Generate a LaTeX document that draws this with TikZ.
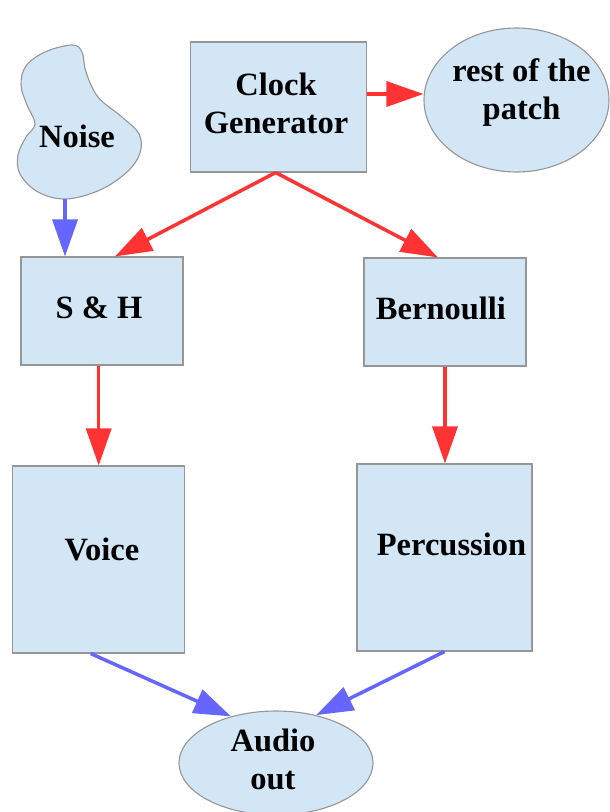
\documentclass[tikz,border=0pt]{standalone}
\usepackage{fontspec}
\setmainfont{Liberation Serif}[BoldFont={Liberation Serif Bold}]
\newfontfamily\labelfont{Liberation Serif Bold}
\usetikzlibrary{shapes.geometric,arrows.meta,calc}
\definecolor{boxfill}{RGB}{210,230,245}
\definecolor{boxline}{RGB}{150,150,150}
\definecolor{clockred}{RGB}{255,51,51}
\definecolor{audioblue}{RGB}{102,102,255}
\begin{document}
\begin{tikzpicture}[x=1pt,y=-1pt,
  block/.style={draw=boxline, line width=1.1pt, fill=boxfill, rectangle, inner sep=0pt},
  oval/.style={draw=boxline, line width=1.1pt, fill=boxfill, ellipse, inner sep=0pt},
  lbl/.style={font=\labelfont\fontsize{32.5}{38}\selectfont, align=center, inner sep=0pt},
  sig/.style={line width=3.5pt, draw=clockred, -{Triangle[length=37pt,width=25pt]}},
  snd/.style={line width=3.5pt, draw=audioblue, -{Triangle[length=37pt,width=25pt]}}]
\useasboundingbox (0,0) rectangle (610,812);

% noise source blob
\draw[draw=boxline, line width=1.1pt, fill=boxfill]
  plot[smooth cycle, tension=0.6] coordinates {
    (72,45) (82,52) (86,72) (98,97) (122,117) (139,134) (140,153)
    (127,172) (100,190) (66,199) (38,192) (20,174) (18,155) (26,137)
    (35,124) (27,105) (21,85) (26,66) (45,52)};
\coordinate (noisefoot) at (65,199);

% blocks
\node[block, minimum width=176pt, minimum height=130pt] (clock) at (278.7,107) {};
\node[oval, minimum width=185pt, minimum height=144pt] (rest) at (516.5,100) {};
\node[block, minimum width=162pt, minimum height=108pt] (sh) at (102,311) {};
\node[block, minimum width=162pt, minimum height=108pt] (bern) at (445,312) {};
\node[block, minimum width=172pt, minimum height=187pt] (voice) at (98.7,559.5) {};
\node[block, minimum width=175pt, minimum height=187pt] (perc) at (444.5,557.5) {};
\node[oval, minimum width=194pt, minimum height=104pt] (audio) at (276,763) {};

% labels
\node[lbl] (noiselbl) at (77,147) [anchor=base] {Noise};
\node[lbl] (clocklbl) at (276,103) {Clock\\Generator};
\node[lbl] (restlbl) at (521.5,92.4) {rest of the\\patch};
\node[lbl, anchor=base] (shlbl) at (99,318) {S \& H};
\node[lbl, anchor=base] (bernlbl) at (441,319) {Bernoulli};
\node[lbl, anchor=base] (voicelbl) at (102,560) {Voice};
\node[lbl, anchor=base] (perclbl) at (451.5,555) {Percussion};
\node[lbl] (audiolbl) at (273,759.5) {Audio\\out};

% clock connections
\coordinate (fork) at ($(clock.south)+(-3,0)$);
\coordinate (tap) at ($(clock.east)+(0,-13)$);
\draw[sig] (tap) -- (tap -| rest.west);
\draw[sig] (fork) -- ($(sh.north)+(13,0)$);
\draw[sig] (fork) -- ($(bern.north)+(-7,0)$);
\draw[sig] (sh.south -| voice.north) -- (voice.north);
\draw[sig] (bern.south) -- (bern.south |- perc.north);

% audio connections
\draw[snd] (noisefoot) -- (noisefoot |- sh.north);
\draw[snd] ($(voice.south)+(-8,0)$) -- (audio.134);
\draw[snd] (perc.south) -- (audio.50);
\end{tikzpicture}
\end{document}
